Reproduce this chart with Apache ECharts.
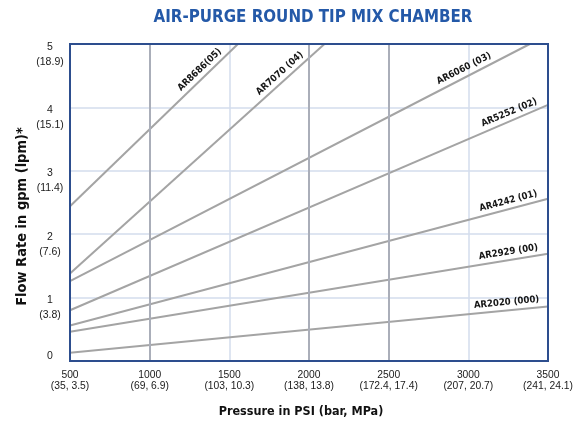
<!DOCTYPE html>
<html>
<head>
<meta charset="utf-8">
<script src="https://cdn.jsdelivr.net/npm/echarts@6/dist/echarts.min.js"></script>
<style>html,body{margin:0;padding:0;background:#fff}#c{width:573px;height:421px}</style>
</head>
<body>
<div id="c"></div>
<script>
// Tick labels
const psiTicks = [500, 1000, 1500, 2000, 2500, 3000, 3500];
const barMpaLabels = ['(35, 3.5)', '(69, 6.9)', '(103, 10.3)', '(138, 13.8)', '(172.4, 17.4)', '(207, 20.7)', '(241, 24.1)'];
const gpmTicks = [0, 1, 2, 3, 4, 5];
const lpmLabels = ['', '(3.8)', '(7.6)', '(11.4)', '(15.1)', '(18.9)'];
const darkGridPsi = [1000, 2000, 2500];

// Series: [psi, gpm] start and end points
const seriesNames = ['AR8686(05)', 'AR7070 (04)', 'AR6060 (03)', 'AR5252 (02)', 'AR4242 (01)', 'AR2929 (00)', 'AR2020 (000)'];
const ar8686 = [[500, 2.44], [1554, 5]];
const ar7070 = [[500, 1.38], [2097, 5]];
const ar6060 = [[500, 1.26], [3386, 5]];
const ar5252 = [[500, 0.80], [3500, 4.04]];
const ar4242 = [[500, 0.56], [3500, 2.56]];
const ar2929 = [[500, 0.46], [3500, 1.69]];
const ar2020 = [[500, 0.13], [3500, 0.86]];
const seriesData = [ar8686, ar7070, ar6060, ar5252, ar4242, ar2929, ar2020];

const labelRotate = [44, 42, 27, 23, 15, 9, 5.5];
const labelOffset = [[-17, -3], [-23, -3], [-40, -3], [-9, -3], [-9, -3], [-9, -3], [-8, -3]];

const FONT = '"DejaVu Sans Condensed", "Liberation Sans Narrow", sans-serif';
const TICKFONT = '"Liberation Sans", Arial, sans-serif';

const series = seriesData.map((d, i) => ({
  type: 'line',
  name: seriesNames[i],
  showSymbol: true,
  symbol: 'circle',
  symbolSize: 0,
  silent: true,
  animation: false,
  lineStyle: { color: '#a4a4a4', width: 2 },
  itemStyle: { color: '#a4a4a4' },
  z: 3,
  data: d.map((p, j) => j === d.length - 1 ? {
    value: p,
    label: {
      show: true,
      formatter: seriesNames[i],
      position: 'inside',
      align: 'right',
      verticalAlign: 'bottom',
      rotate: labelRotate[i],
      offset: labelOffset[i],
      color: '#151515',
      fontFamily: FONT,
      fontWeight: 'bold',
      fontSize: 9.5
    }
  } : { value: p })
}));

series.push({
  type: 'line',
  data: [],
  silent: true,
  animation: false,
  markLine: {
    silent: true,
    symbol: ['none', 'none'],
    label: { show: false },
    lineStyle: { color: '#aaaeb9', width: 2, type: 'solid' },
    data: darkGridPsi.map(v => ({ xAxis: v }))
  },
  z: 2
});

const chart = echarts.init(document.getElementById('c'), null, { renderer: 'canvas' });
chart.setOption({
  backgroundColor: '#fff',
  animation: false,
  title: {
    text: 'AIR-PURGE ROUND TIP MIX CHAMBER',
    left: 308, textAlign: 'center', top: 4,
    textStyle: { color: '#2459a8', fontFamily: FONT, fontWeight: 'bold', fontSize: 16.8 }
  },
  grid: {
    left: 70, right: 25, top: 44, bottom: 60,
    outerBoundsMode: 'none', containLabel: false,
    show: true, borderColor: '#2d4e8e', borderWidth: 2, z: 10
  },
  xAxis: {
    type: 'value', min: 500, max: 3500, interval: 500,
    axisLine: { show: false }, axisTick: { show: false },
    splitLine: { show: true, lineStyle: { color: '#d3dcec', width: 1.5 } },
    axisLabel: {
      margin: 9,
      color: '#1a1a1a', fontFamily: TICKFONT, fontSize: 10.3, lineHeight: 11,
      formatter: v => { const i = psiTicks.indexOf(v); return v + '\n' + barMpaLabels[i]; }
    },
    name: 'Pressure in PSI (bar, MPa)', nameLocation: 'middle', nameGap: 44, nameMoveOverlap: false,
    nameTextStyle: { color: '#111', fontFamily: FONT, fontWeight: 'bold', fontSize: 12.5, padding: [0, 16, 0, 0] }
  },
  yAxis: {
    type: 'value', min: 0, max: 5, interval: 1,
    axisLine: { show: false }, axisTick: { show: false },
    splitLine: { show: true, lineStyle: { color: '#d3dcec', width: 1.5 } },
    axisLabel: {
      margin: 20, align: 'center', verticalAlign: 'middle',
      color: '#1a1a1a', fontFamily: TICKFONT, fontSize: 10.5,
      formatter: v => {
        const i = gpmTicks.indexOf(v);
        if (v === 0) return '{z|0}';
        return '{p|' + v + '}\n{a|' + lpmLabels[i] + '}';
      },
      rich: {
        z: { fontFamily: TICKFONT, fontSize: 10.5, lineHeight: 20, verticalAlign: 'top', color: '#1a1a1a' },
        p: { fontFamily: TICKFONT, fontSize: 10.5, lineHeight: 31.5, verticalAlign: 'bottom', color: '#1a1a1a' },
        a: { fontFamily: TICKFONT, fontSize: 10.5, lineHeight: 15, verticalAlign: 'bottom', color: '#1a1a1a' }
      }
    },
    name: 'Flow Rate in gpm (lpm)*', nameLocation: 'middle', nameGap: 40, nameRotate: 90, nameMoveOverlap: false,
    nameTextStyle: { color: '#111', fontFamily: FONT, fontWeight: 'bold', fontSize: 14.5, padding: [0, 28, 0, 0] }
  },
  series: series
});
</script>
</body>
</html>
